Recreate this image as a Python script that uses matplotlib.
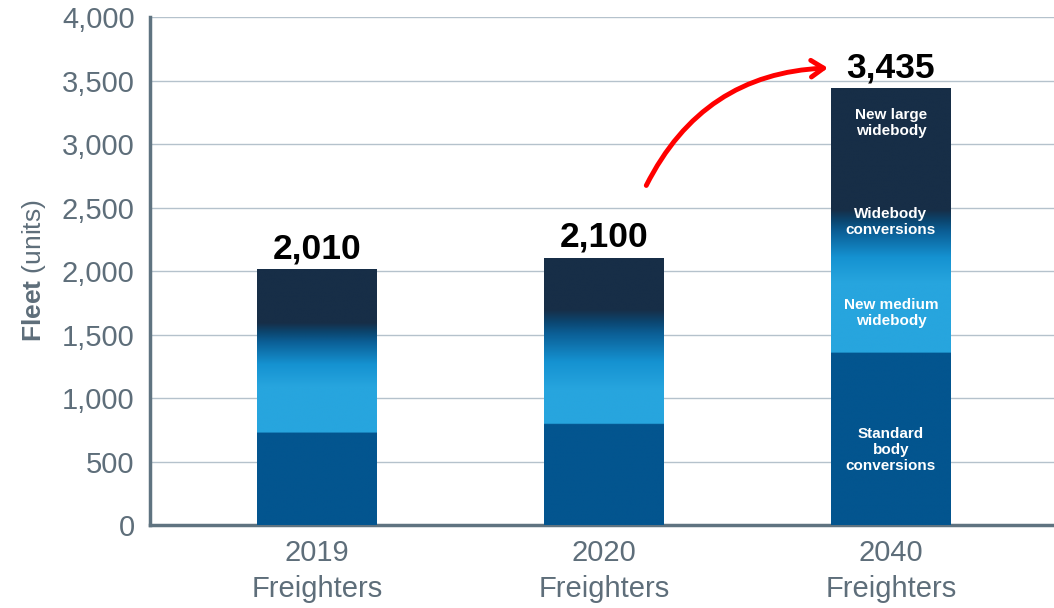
import matplotlib.pyplot as plt
import numpy as np
from matplotlib.colors import LinearSegmentedColormap, to_rgb

plt.rcParams['font.family'] = ['Liberation Sans', 'DejaVu Sans']
plt.rcParams['mathtext.fontset'] = 'custom'
plt.rcParams['mathtext.bf'] = 'Liberation Sans:bold'
plt.rcParams['mathtext.rm'] = 'Liberation Sans'

## data (units)
categories = ['2019\nFreighters', '2020\nFreighters', '2040\nFreighters']
totals = [2010, 2100, 3435]
standard_conv = [725, 795, 1355]
new_medium = [360, 270, 550]
widebody_conv = [505, 630, 575]
new_large = [420, 405, 955]
segment_names = ['Standard\nbody\nconversions', 'New medium\nwidebody',
                 'Widebody\nconversions', 'New large\nwidebody']

## colours
c_std = to_rgb('#03558F')
c_light = to_rgb('#27A5DE')
c_navy = to_rgb('#172E47')
grad = LinearSegmentedColormap.from_list('g', [(0.0, '#27A5DE'), (0.35, '#1592D1'),
                                               (0.7, '#0B5F96'), (0.85, '#0B4670'),
                                               (1.0, '#172E47')])
grey = '#5E6E7A'

fig = plt.figure(figsize=(10.54, 6.08), dpi=100)
ax = fig.add_axes([0.1423, 0.1365, 0.8577, 0.8355])

x = np.arange(len(categories))
w = 0.418

def bar_image(std, med, conv, large, n=900):
    total = std + med + conv + large
    v = np.linspace(0, total, n)
    cols = np.zeros((n, 1, 3))
    for i in range(n):
        vi = v[i]
        if vi < std:
            c = c_std
        elif vi < std + med:
            c = c_light
        elif vi < std + med + conv:
            c = grad((vi - std - med) / conv)[:3]
        else:
            c = c_navy
        cols[i, 0, :] = c
    return cols, total

for i in range(len(categories)):
    img, tot = bar_image(standard_conv[i], new_medium[i], widebody_conv[i], new_large[i])
    ax.imshow(img, extent=[x[i] - w / 2, x[i] + w / 2, 0, tot], origin='lower',
              aspect='auto', interpolation='bilinear', zorder=3)
    ax.text(x[i], totals[i] + 35, '{:,}'.format(totals[i]), ha='center', va='bottom',
            fontsize=25.5, fontweight='bold', color='black', zorder=4)

## segment names inside the 2040 bar
label_y = [590, 1669, 2386, 3165]
for name, yy in zip(segment_names, label_y):
    ax.text(x[2], yy, name, ha='center', va='center', color='white',
            fontsize=11, fontweight='bold', linespacing=1.2, zorder=4)

## red growth arrow
ax.annotate('', xy=(1.79, 3600), xytext=(1.143, 2654),
            arrowprops=dict(arrowstyle='->,head_length=0.9,head_width=0.6', color='red',
                            lw=3.5, connectionstyle='arc3,rad=-0.3'), zorder=5)

ax.set_xlim(-0.582, 2.568)
ax.set_ylim(0, 4000)
ax.set_yticks(np.arange(0, 4001, 500))
ax.set_yticklabels(['{:,}'.format(t) for t in range(0, 4001, 500)])
ax.set_xticks(x)
ax.set_xticklabels(categories, linespacing=1.35)
ax.yaxis.grid(True, color='#B5C2CC', lw=1.0, zorder=0)
ax.set_axisbelow(True)
ax.tick_params(axis='both', length=0, labelsize=21, labelcolor=grey)
ax.tick_params(axis='y', pad=11)
ax.tick_params(axis='x', pad=10)

for s in ['top', 'right']:
    ax.spines[s].set_visible(False)
for s in ['left', 'bottom']:
    ax.spines[s].set_color('#5F7380')
    ax.spines[s].set_linewidth(2.5)

ax.set_ylabel(r'$\bf{Fleet}$ (units)', fontsize=19, color=grey, labelpad=10)

fig.savefig('out.png', dpi=100)
